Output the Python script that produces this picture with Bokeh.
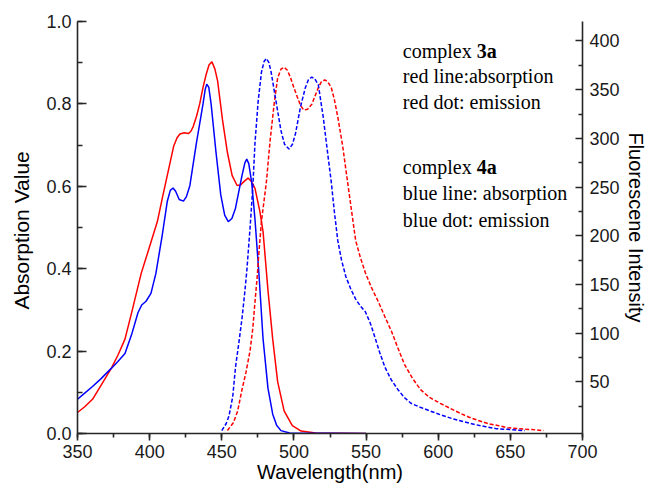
from bokeh.plotting import figure
from bokeh.models import Range1d, LinearAxis, SingleIntervalTicker, FixedTicker, Label, PrintfTickFormatter
from bokeh.embed import file_html
from bokeh.resources import INLINE

# ---- data ----
abs3a_wl = [350, 355, 360.4, 366, 373.4, 378, 382.9, 388, 394.1, 400.9, 405.4, 409, 412.2, 416.7, 419,
            421, 424, 426.8, 428.5, 430.2, 432.5, 434.7, 437, 439.2, 441.2, 443.2, 445.2, 447.1, 450.5,
            453.9, 457.2, 460.6, 463, 465.5, 468.2, 470.5, 473, 476.4, 478.6, 482, 485.3, 488.7, 493.2,
            498.9, 505, 515, 550]
abs3a = [0.051, 0.065, 0.083, 0.115, 0.158, 0.19, 0.229, 0.30, 0.388, 0.464, 0.515, 0.575, 0.626, 0.698, 0.718,
         0.727, 0.730, 0.728, 0.733, 0.745, 0.77, 0.80, 0.84, 0.872, 0.895, 0.902, 0.885, 0.856, 0.761,
         0.682, 0.626, 0.602, 0.603, 0.612, 0.62, 0.612, 0.595, 0.539, 0.49, 0.348, 0.229, 0.126, 0.055,
         0.019, 0.006, 0.001, 0.0]

abs4a_wl = [350, 355, 360.4, 366, 373.4, 378, 382.9, 387.5, 391.9, 394.5, 397.5, 400.9, 404.3, 408.8, 412.2,
            414.3, 416.2, 418, 420.5, 423.4, 425.5, 427.9, 432.4, 437, 438.5, 439.6, 441, 442.6, 446, 449.3,
            452, 454.5, 457, 459.5, 464, 466, 467.3, 468.7, 470.7, 473, 475.7, 478.6, 482, 485.3, 488, 491,
            497, 550]
abs4a = [0.083, 0.098, 0.114, 0.132, 0.158, 0.175, 0.194, 0.24, 0.293, 0.312, 0.321, 0.34, 0.388, 0.483, 0.563,
         0.59, 0.596, 0.588, 0.568, 0.564, 0.575, 0.602, 0.705, 0.80, 0.835, 0.848, 0.84, 0.80, 0.682, 0.579,
         0.53, 0.514, 0.522, 0.547, 0.626, 0.657, 0.666, 0.655, 0.61, 0.52, 0.39, 0.23, 0.11, 0.047, 0.02, 0.007,
         0.001, 0.0]

em3a_wl = [453.9, 458, 461, 464, 466.8, 469.6, 471.5, 473, 474.5, 475.7, 477.5, 480.9, 483.5, 486.5, 488.7,
           491, 493.2, 495.5, 497.7, 500, 502.2, 504.5, 506.8, 509.5, 512.4, 514.5, 516.9, 519, 521.4, 523.5,
           525.9, 528, 530.4, 533.8, 537.2, 540, 542.8, 546, 549.5, 554, 558.6, 563, 567.6, 572, 576.6, 582,
           587.8, 594, 601.4, 608, 614.9, 621, 628.4, 635, 641.9, 648, 655, 665, 673]
em3a = [0, 8, 20, 42, 60, 82, 105, 132, 157, 182, 215, 255, 298, 338, 362,
        371, 373, 370, 362, 352, 343, 334, 329, 330, 335, 343, 352, 358, 360, 358,
        352, 340, 322, 292, 255, 225, 195, 178, 162, 146, 132, 117, 102, 85, 68, 54,
        42, 34, 28, 23, 18, 14, 10, 7, 5, 3, 2, 1, 0]

em4a_wl = [450, 453, 455, 457.6, 459.5, 462, 464, 465.8, 467.4, 469.6, 471.5, 473, 475.2, 477.5, 479.3, 480.9,
           482.6, 484.2, 487.6, 491, 493.5, 496.6, 499, 501.1, 504.5, 507.9, 510, 512.4, 514.5, 516.9, 520.3,
           523.6, 525.9, 528, 530.4, 533, 536, 539.5, 542.8, 546, 549.5, 553, 556.3, 559.5, 563.1, 567.5,
           572.1, 576.5, 581.1, 587.5, 594.6, 602, 610.3, 618, 626.1, 633, 640, 650, 660]
em4a = [0, 7, 15, 35, 65, 92, 115, 140, 165, 208, 250, 295, 338, 368, 379, 382,
        378, 368, 338, 308, 294, 289, 294, 305, 332, 352, 360, 363, 361, 355, 322,
        282, 255, 225, 195, 175, 158, 145, 135, 128, 122, 110, 95, 80, 65, 52,
        42, 34, 28, 24, 20, 16, 12, 9, 6, 4, 2, 1, 0]

x_ticks_interval = 50
left_ticks_interval = 0.2
right_ticks = [50, 100, 150, 200, 250, 300, 350, 400]
right_minor = [25, 75, 125, 175, 225, 275, 325, 375]

RED = "#ff0000"
BLUE = "#0000ff"
AX = "#262626"
SANS = "Liberation Sans"
SERIF = "Liberation Serif"

p = figure(width=649, height=485, x_range=Range1d(350, 700), y_range=Range1d(0, 1.0),
           output_backend="svg", toolbar_location=None,
           min_border_left=77, min_border_right=0, min_border_top=21, min_border_bottom=0)
p.extra_y_ranges = {"fl": Range1d(-3, 420)}
p.grid.visible = False
p.outline_line_color = None
p.background_fill_color = "white"

# bottom axis
xa = p.xaxis[0]
xa.ticker = SingleIntervalTicker(interval=x_ticks_interval, num_minor_ticks=2)
xa.axis_label = "Wavelength(nm)"
xa.major_tick_in = 0
xa.major_tick_out = 7
xa.minor_tick_in = 0
xa.minor_tick_out = 4
xa.major_label_standoff = 4
xa.axis_label_standoff = 0

# left axis
ya = p.yaxis[0]
ya.ticker = SingleIntervalTicker(interval=left_ticks_interval, num_minor_ticks=2)
ya.formatter = PrintfTickFormatter(format="%.1f")
ya.axis_label = "Absorption  Value"
ya.major_tick_in = 9
ya.major_tick_out = 0
ya.minor_tick_in = 5
ya.minor_tick_out = 0
ya.major_label_standoff = 6
ya.axis_label_standoff = 10

# right axis
ra = LinearAxis(y_range_name="fl", ticker=FixedTicker(ticks=right_ticks, minor_ticks=right_minor),
                axis_label="Fluorescene Intensity")
ra.major_tick_in = 7
ra.major_tick_out = 0
ra.minor_tick_in = 4
ra.minor_tick_out = 0
ra.major_label_standoff = 7
ra.axis_label_standoff = 2
p.add_layout(ra, "right")

for ax in (xa, ya, ra):
    ax.axis_line_color = AX
    ax.axis_line_width = 1.6
    ax.major_tick_line_color = AX
    ax.major_tick_line_width = 1.6
    ax.minor_tick_line_color = AX
    ax.minor_tick_line_width = 1.6
    ax.major_label_text_font = SANS
    ax.major_label_text_font_size = "18px"
    ax.major_label_text_color = "#1a1a1a"
    ax.axis_label_text_font = SANS
    ax.axis_label_text_font_size = "20px"
    ax.axis_label_text_font_style = "normal"
    ax.axis_label_text_color = "#000000"
ya.axis_label_text_font_size = "21px"

# curves
p.line(abs3a_wl, abs3a, line_color=RED, line_width=1.5)
p.line(abs4a_wl, abs4a, line_color=BLUE, line_width=1.5)
p.line(em3a_wl, em3a, line_color=RED, line_width=1.5, line_dash="4 2", y_range_name="fl")
p.line(em4a_wl, em4a, line_color=BLUE, line_width=1.5, line_dash="4 2", y_range_name="fl")

# annotation text
notes = [
    ("complex ", "3a", 0.929),
    ("red line:absorption", None, 0.867),
    ("red dot: emission", None, 0.805),
    ("complex ", "4a", 0.648),
    ("blue line: absorption", None, 0.583),
    ("blue dot: emission", None, 0.519),
]
for txt, bold, yy in notes:
    p.add_layout(Label(x=575.5, y=yy, text=txt, text_font=SERIF, text_font_size="20px",
                       text_baseline="alphabetic", text_color="#000000"))
    if bold:
        p.add_layout(Label(x=575.5, y=yy, x_offset=74, text=bold, text_font=SERIF,
                           text_font_size="20px", text_font_style="bold",
                           text_baseline="alphabetic", text_color="#000000"))

open("out.html", "w").write(file_html(p, INLINE))
